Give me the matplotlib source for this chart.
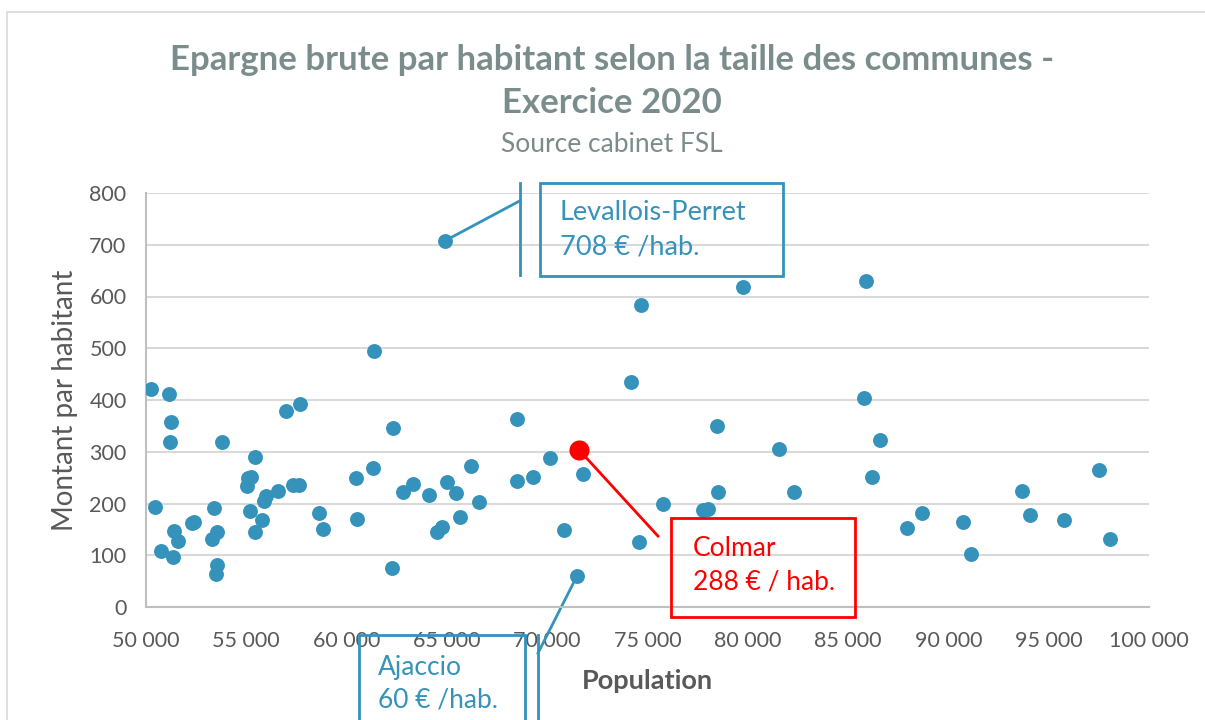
import matplotlib.pyplot as plt
from matplotlib.patches import Rectangle
from matplotlib.ticker import FuncFormatter, MultipleLocator

plt.rcParams['font.family'] = ['Lato', 'DejaVu Sans']

# population / epargne brute par habitant
population = [50249, 51147, 51263, 51196, 50465, 50748, 51329, 51379, 51579, 52276,
              52409, 53406, 53273, 53522, 53522, 53489, 53805, 55052, 55102, 55234,
              55450, 55201, 55417, 55783, 55882, 55982, 56580, 56994, 57677, 57344,
              57610, 58607, 58840, 60483, 60500, 61296, 61379, 62298, 62278, 62827,
              63325, 64108, 65022, 65471, 64507, 64741, 65653, 64920, 66217, 66583,
              68510, 68495, 69277, 70155, 70820, 71485, 71785, 74162, 74675, 74576,
              75755, 77782, 78031, 78449, 78531, 79746, 81570, 82303, 85875, 85775,
              86605, 86191, 87922, 88684, 90712, 91127, 93684, 94068, 95748, 97507,
              98056]
montant = [421, 412, 358, 318, 194, 108, 97, 147, 128, 163,
           165, 191, 131, 145, 82, 63, 319, 234, 250, 252,
           290, 185, 144, 168, 205, 215, 225, 378, 392, 236,
           235, 181, 151, 249, 171, 269, 495, 346, 75, 222,
           237, 217, 241, 220, 145, 155, 174, 708, 272, 202,
           364, 243, 252, 288, 148, 60, 257, 435, 584, 126,
           199, 188, 189, 350, 223, 618, 305, 222, 629, 403,
           323, 251, 153, 182, 164, 102, 224, 177, 169, 265,
           132]

colmar_pop = 71600
colmar_val = 303

x_ticks = list(range(50000, 100001, 5000))

blue = '#3492BB'
red = '#FF0000'
grey_text = '#595959'
title_grey = '#7B8C8C'

fig = plt.figure(figsize=(12.05, 7.2), dpi=100)
ax = fig.add_axes([146 / 1205, 1 - 607 / 720, (1149 - 146) / 1205, (607 - 193) / 720])

# light outer border of the chart area
fig.patches.append(Rectangle((7 / 1205, -0.01), 1.02, 1 - 12 / 720 + 0.01,
                             transform=fig.transFigure, fill=False,
                             edgecolor='#D9D9D9', linewidth=1.2))

ax.scatter(population, montant, s=115, color=blue, linewidths=0, zorder=3)
ax.scatter([colmar_pop], [colmar_val], s=210, color=red, linewidths=0, zorder=4)

ax.set_xlim(50000, 100000)
ax.set_ylim(0, 800)
ax.set_xticks(x_ticks)
ax.yaxis.set_major_locator(MultipleLocator(100))
ax.xaxis.set_major_formatter(FuncFormatter(lambda v, p: f"{int(v):,}".replace(',', ' ')))
ax.tick_params(axis='both', length=0, labelsize=15.5, labelcolor=grey_text)
ax.tick_params(axis='x', pad=17)
ax.tick_params(axis='y', pad=14)
ax.grid(axis='y', color='#D9D9D9', linewidth=1.5)
ax.set_axisbelow(True)
for side in ['top', 'right']:
    ax.spines[side].set_visible(False)
for side in ['left', 'bottom']:
    ax.spines[side].set_color('#BFBFBF')
    ax.spines[side].set_linewidth(1.5)

ax.set_ylabel('Montant par habitant', fontsize=20, color=grey_text, labelpad=8)
ax.set_xlabel('Population', fontsize=19.5, fontweight='bold', color=grey_text, labelpad=13)

fig.text(0.508, 1 - 60 / 720, 'Epargne brute par habitant selon la taille des communes -',
         ha='center', va='center', fontsize=25, fontweight='bold', color=title_grey)
fig.text(0.508, 1 - 103 / 720, 'Exercice 2020', ha='center', va='center',
         fontsize=25, fontweight='bold', color=title_grey)
fig.text(0.508, 1 - 145 / 720, 'Source cabinet FSL', ha='center', va='center',
         fontsize=19, color=title_grey)

# Levallois-Perret callout
ax.add_patch(Rectangle((69641, 640), 81755 - 69641, 819 - 640, fill=False,
                       edgecolor=blue, linewidth=2, clip_on=False, zorder=5))
ax.plot([68644, 68644], [641, 819], color=blue, linewidth=2, clip_on=False)
ax.plot([64920, 68644], [708, 785], color=blue, linewidth=2, clip_on=False)
ax.text(70638, 763, 'Levallois-Perret', fontsize=19.5, color=blue, va='center')
ax.text(70638, 696, '708 € /hab.', fontsize=19.5, color=blue, va='center')

# Colmar callout
ax.add_patch(Rectangle((76171, -19), 85344 - 76171, 172 + 19, fill=False,
                       edgecolor=red, linewidth=2, clip_on=False, zorder=5))
ax.plot([colmar_pop, 75523], [colmar_val, 137], color=red, linewidth=2, clip_on=False)
ax.text(77268, 114, 'Colmar', fontsize=19, color=red, va='center')
ax.text(77268, 48, '288 € / hab.', fontsize=19, color=red, va='center')

# Ajaccio callout
ax.add_patch(Rectangle((60618, -240), 68893 - 60618, 240 - 54, fill=False,
                       edgecolor=blue, linewidth=2, clip_on=False, zorder=5))
ax.plot([69542, 69542], [-54, -240], color=blue, linewidth=2, clip_on=False)
ax.plot([71485, 69542], [60, -89], color=blue, linewidth=2, clip_on=False)
ax.text(61565, -116, 'Ajaccio', fontsize=19, color=blue, va='center', clip_on=False)
ax.text(61565, -180, '60 € /hab.', fontsize=19, color=blue, va='center', clip_on=False)

fig.savefig('out.png', dpi=100)
